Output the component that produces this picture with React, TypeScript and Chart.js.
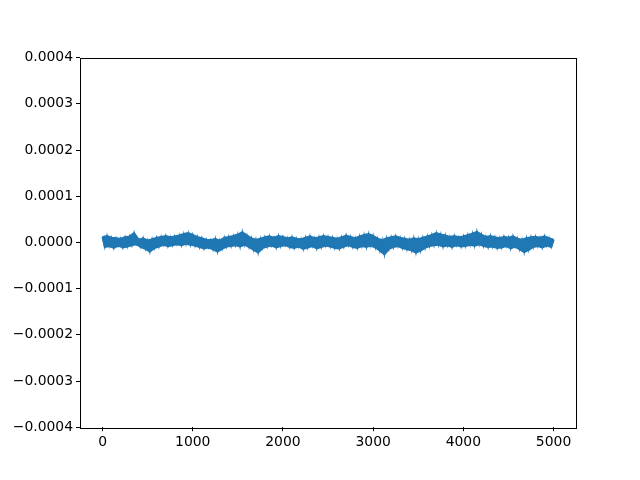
import React, { useEffect, useRef } from "react";
import { Chart, registerables } from "chart.js";

Chart.register(...registerables);

// Even entries follow the upper edge of the noisy trace, odd entries the lower edge.
const sampleStep = 25;
const signalMicro: number[] = [
  12, -10, 14, -8, 10, -12, 9, -7,
  8, -11, 11, -9, 13, -6, 20, -4,
  6, -10, 9, -14, 4, -20, 7, -12,
  10, -9, 12, -5, 14, -8, 11, -6,
  13, -4, 15, -6, 18, -3, 20, -5,
  16, -7, 12, -10, 9, -13, 6, -11,
  5, -15, 8, -20, 4, -14, 10, -9,
  12, -8, 14, -6, 17, -9, 22, -5,
  15, -10, 9, -16, 6, -22, 8, -12,
  11, -9, 13, -7, 10, -11, 14, -8,
  12, -6, 9, -10, 11, -12, 8, -9,
  7, -14, 10, -11, 13, -8, 9, -13,
  11, -10, 14, -7, 12, -9, 10, -12,
  8, -13, 11, -9, 15, -6, 12, -10,
  9, -12, 13, -8, 16, -10, 18, -7,
  14, -11, 8, -18, 5, -26, 9, -14,
  11, -10, 13, -8, 10, -12, 8, -15,
  6, -17, 9, -22, 7, -18, 10, -12,
  13, -8, 16, -6, 20, -5, 17, -9,
  15, -7, 12, -10, 14, -6, 11, -9,
  13, -8, 16, -5, 19, -7, 23, -4,
  17, -8, 12, -10, 14, -9, 11, -12,
  9, -11, 12, -8, 10, -13, 13, -9,
  8, -15, 6, -21, 9, -16, 11, -10,
  12, -8, 10, -11, 13, -7, 9, -10,
  6,
];

const xTicks: number[] = [0, 1000, 2000, 3000, 4000, 5000];
const yTicks: number[] = [-0.0004, -0.0003, -0.0002, -0.0001, 0, 0.0001, 0.0002, 0.0003, 0.0004];

const fontFamily = "'DejaVu Sans', sans-serif";
const lineColor = "#1f77b4";

const frame = {
  id: "frame",
  afterDraw(chart: any) {
    const { ctx, chartArea } = chart;
    ctx.save();
    ctx.strokeStyle = "#000";
    ctx.lineWidth = 1;
    ctx.strokeRect(
      Math.round(chartArea.left) + 0.5,
      Math.round(chartArea.top) + 0.5,
      Math.round(chartArea.right - chartArea.left),
      Math.round(chartArea.bottom - chartArea.top)
    );
    ctx.restore();
  },
};

export default function App() {
  const ref = useRef<HTMLCanvasElement | null>(null);

  useEffect(() => {
    if (!ref.current) return;
    const points = signalMicro.map((v, i) => ({ x: i * sampleStep, y: v * 1e-6 }));
    const upper = points.filter((_, i) => i % 2 === 0);
    const lower = points.filter((_, i) => i % 2 === 1 || i === points.length - 1 || i === 0);
    const chart = new Chart(ref.current, {
      type: "line",
      data: {
        datasets: [
          {
            data: upper,
            borderColor: lineColor,
            backgroundColor: lineColor,
            borderWidth: 2,
            pointRadius: 0,
            tension: 0,
            fill: false,
          },
          {
            data: lower,
            borderColor: lineColor,
            backgroundColor: lineColor,
            borderWidth: 2,
            pointRadius: 0,
            tension: 0,
            fill: "-1",
          },
          {
            data: points,
            borderColor: lineColor,
            borderWidth: 1.5,
            pointRadius: 0,
            tension: 0,
            fill: false,
          },
        ],
      },
      options: {
        animation: false,
        responsive: false,
        devicePixelRatio: 1,
        layout: { padding: { left: 0, top: 57.6, right: 64, bottom: 0 } },
        plugins: { legend: { display: false }, tooltip: { enabled: false } },
        scales: {
          x: {
            type: "linear",
            min: -249.95,
            max: 5248.95,
            afterBuildTicks: (scale: any) => {
              scale.ticks = xTicks.map((v) => ({ value: v }));
            },
            afterFit: (scale: any) => {
              scale.height = 480 - 427.2;
            },
            grid: {
              display: true,
              drawOnChartArea: false,
              drawTicks: true,
              tickLength: 4,
              tickColor: "#000",
              tickWidth: 1,
            },
            border: { display: false },
            ticks: {
              color: "#000",
              padding: 3,
              maxRotation: 0,
              autoSkip: false,
              font: { family: fontFamily, size: 13.9 },
              callback: (v: any) => String(v),
            },
          },
          y: {
            type: "linear",
            min: -0.0004,
            max: 0.0004,
            afterBuildTicks: (scale: any) => {
              scale.ticks = yTicks.map((v) => ({ value: v }));
            },
            afterFit: (scale: any) => {
              scale.width = 80;
            },
            grid: {
              display: true,
              drawOnChartArea: false,
              drawTicks: true,
              tickLength: 4,
              tickColor: "#000",
              tickWidth: 1,
            },
            border: { display: false },
            ticks: {
              color: "#000",
              padding: 3,
              autoSkip: false,
              font: { family: fontFamily, size: 13.9 },
              callback: (v: any) => {
                const n = Number(v);
                const s = Math.abs(n).toFixed(4);
                return n < -1e-12 ? "\u2212" + s : s;
              },
            },
          },
        },
      },
      plugins: [frame],
    });
    return () => chart.destroy();
  }, []);

  return (
    <div style={{ position: "absolute", left: 0, top: 0, width: 640, height: 480, background: "#fff" }}>
      <canvas ref={ref} width={640} height={480} style={{ display: "block" }} />
    </div>
  );
}
